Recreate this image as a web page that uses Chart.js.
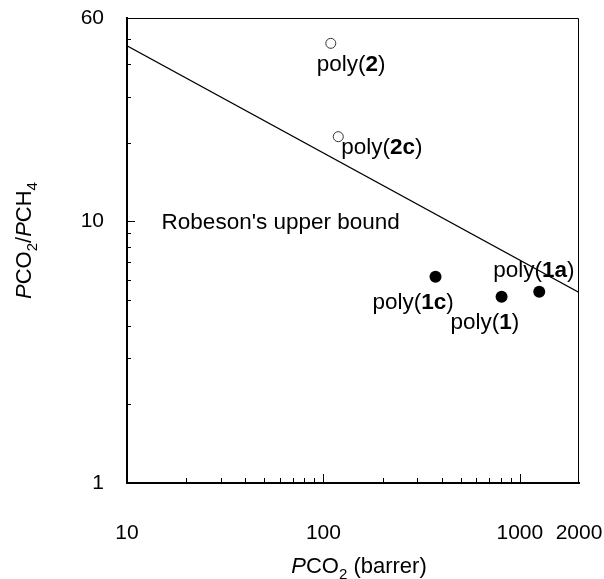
<!DOCTYPE html>
<html>
<head>
<meta charset="utf-8">
<script src="https://cdn.jsdelivr.net/npm/chart.js@4/dist/chart.umd.min.js"></script>
<style>
  body { margin: 0; background: #fff; }
  canvas { display: block; }
</style>
</head>
<body>
<canvas id="robesonChart" width="604" height="579"></canvas>
<script>
// Данные графика
const xTickValues = [10, 100, 1000, 2000];
const yTickValues = [1, 10, 60];
const xMinor = [20, 30, 40, 50, 60, 70, 80, 90, 200, 300, 400, 500, 600, 700, 800, 900];
const yMinor = [2, 3, 4, 5, 6, 7, 8, 9, 20, 30, 40, 50];

const openX = [109, 119];
const openY = [48, 21.1];
const openNames = ["2", "2c"];

const filledX = [372, 807, 1255];
const filledY = [6.15, 5.16, 5.39];
const filledNames = ["1c", "1", "1a"];

const boundX = [10, 2000];
const boundY = [47, 5.35];
const boundText = "Robeson's upper bound";
const boundTextAt = [15, 9.4];

// смещения подписей от точек (px): [dx, dy] до левого края / базовой линии
const openOffsets = [[-14, 28], [3, 17]];
const filledOffsets = [[-63, 32], [-51, 32], [-46, -15]];

const FONT = "'Liberation Sans', Arial, Helvetica, sans-serif";
const LABEL_SIZE = 22.5;

function toPoints(xs, ys) {
    return xs.map((x, i) => ({ x: x, y: ys[i] }));
}

// текст из кусков: обычный / жирный / курсив / нижний индекс
function drawRich(ctx, parts, x, y, align, size) {
    const fontOf = (p) =>
        (p.italic ? "italic " : "") + (p.bold ? "bold " : "") +
        (p.sub ? Math.round(size * 0.7) : size) + "px " + FONT;
    let total = 0;
    parts.forEach((p) => {
        ctx.font = fontOf(p);
        total += ctx.measureText(p.t).width;
    });
    let cx = align === "center" ? x - total / 2 : x;
    ctx.textAlign = "left";
    ctx.textBaseline = "alphabetic";
    parts.forEach((p) => {
        ctx.font = fontOf(p);
        ctx.fillText(p.t, cx, p.sub ? y + size * 0.25 : y);
        cx += ctx.measureText(p.t).width;
    });
}

const polyParts = (name) => [
    { t: "poly(" },
    { t: name, bold: true },
    { t: ")" },
];

const decorPlugin = {
    id: "decor",
    afterDraw(chart) {
        const ctx = chart.ctx;
        const a = chart.chartArea;
        const xs = chart.scales.x;
        const ys = chart.scales.y;
        ctx.save();
        ctx.strokeStyle = "#000";
        ctx.fillStyle = "#000";

        // верхняя и правая рамка
        ctx.lineWidth = 1;
        ctx.beginPath();
        ctx.moveTo(a.left, a.top + 0.5);
        ctx.lineTo(a.right - 0.5, a.top + 0.5);
        ctx.lineTo(a.right - 0.5, a.bottom);
        ctx.stroke();

        // засечки внутрь
        ctx.beginPath();
        xMinor.forEach((v) => {
            const px = Math.round(xs.getPixelForValue(v)) + 0.5;
            ctx.moveTo(px, a.bottom);
            ctx.lineTo(px, a.bottom - 5);
        });
        [100, 1000].forEach((v) => {
            const px = Math.round(xs.getPixelForValue(v)) + 0.5;
            ctx.moveTo(px, a.bottom);
            ctx.lineTo(px, a.bottom - 9);
        });
        yMinor.forEach((v) => {
            const py = Math.round(ys.getPixelForValue(v)) + 0.5;
            ctx.moveTo(a.left, py);
            ctx.lineTo(a.left + 4, py);
        });
        const p10 = Math.round(ys.getPixelForValue(10)) + 0.5;
        ctx.moveTo(a.left, p10);
        ctx.lineTo(a.left + 8, p10);
        ctx.stroke();

        // подписи точек
        openX.forEach((v, i) => {
            const px = xs.getPixelForValue(v) + openOffsets[i][0];
            const py = ys.getPixelForValue(openY[i]) + openOffsets[i][1];
            drawRich(ctx, polyParts(openNames[i]), px, py, "left", LABEL_SIZE);
        });
        filledX.forEach((v, i) => {
            const px = xs.getPixelForValue(v) + filledOffsets[i][0];
            const py = ys.getPixelForValue(filledY[i]) + filledOffsets[i][1];
            drawRich(ctx, polyParts(filledNames[i]), px, py, "left", LABEL_SIZE);
        });
        drawRich(ctx, [{ t: boundText }],
            xs.getPixelForValue(boundTextAt[0]),
            ys.getPixelForValue(boundTextAt[1]), "left", LABEL_SIZE);

        // подписи осей
        drawRich(ctx, [
            { t: "P", italic: true }, { t: "CO" }, { t: "2", sub: true },
            { t: " (barrer)" },
        ], (a.left + a.right) / 2 + 6, 573, "center", 22);

        ctx.translate(31, (a.top + a.bottom) / 2 - 10);
        ctx.rotate(-Math.PI / 2);
        drawRich(ctx, [
            { t: "P", italic: true }, { t: "CO" }, { t: "2", sub: true },
            { t: "/" },
            { t: "P", italic: true }, { t: "CH" }, { t: "4", sub: true },
        ], 0, 0, "center", 22);
        ctx.restore();
    },
};

const ctx = document.getElementById("robesonChart");

new Chart(ctx, {
    type: "scatter",
    data: {
        datasets: [
            {
                label: "bound",
                type: "line",
                data: toPoints(boundX, boundY),
                borderColor: "#000",
                borderWidth: 1.2,
                pointRadius: 0,
                fill: false,
            },
            {
                label: "open",
                data: toPoints(openX, openY),
                pointRadius: 5,
                pointBorderWidth: 1,
                borderColor: "#333",
                backgroundColor: "#fff",
            },
            {
                label: "filled",
                data: toPoints(filledX, filledY),
                pointRadius: 6,
                pointBorderWidth: 0,
                borderColor: "#000",
                backgroundColor: "#000",
            },
        ],
    },
    options: {
        responsive: false,
        animation: false,
        layout: { padding: { top: 18, right: 25, left: 0, bottom: 0 } },
        plugins: {
            legend: { display: false },
            tooltip: { enabled: false },
        },
        scales: {
            x: {
                type: "logarithmic",
                position: "bottom",
                min: 10,
                max: 2000,
                afterBuildTicks: (s) => {
                    s.ticks = xTickValues.map((v) => ({ value: v }));
                },
                afterFit: (s) => {
                    s.height = 96;
                    s.paddingLeft = 0;
                    s.paddingRight = 0;
                },
                grid: { display: false, drawTicks: false },
                border: { display: true, color: "#000", width: 2 },
                ticks: {
                    color: "#000",
                    padding: 38,
                    maxRotation: 0,
                    autoSkip: false,
                    font: { family: FONT, size: 21 },
                    callback: (v) => String(v),
                },
            },
            y: {
                type: "logarithmic",
                position: "left",
                min: 1,
                max: 60,
                afterBuildTicks: (s) => {
                    s.ticks = yTickValues.map((v) => ({ value: v }));
                },
                afterFit: (s) => {
                    s.width = 127;
                    s.paddingTop = 0;
                    s.paddingBottom = 0;
                },
                grid: { display: false, drawTicks: false },
                border: { display: true, color: "#000", width: 2 },
                ticks: {
                    color: "#000",
                    padding: 23,
                    autoSkip: false,
                    font: { family: FONT, size: 21 },
                    callback: (v) => String(v),
                },
            },
        },
    },
    plugins: [decorPlugin],
});
</script>
</body>
</html>
